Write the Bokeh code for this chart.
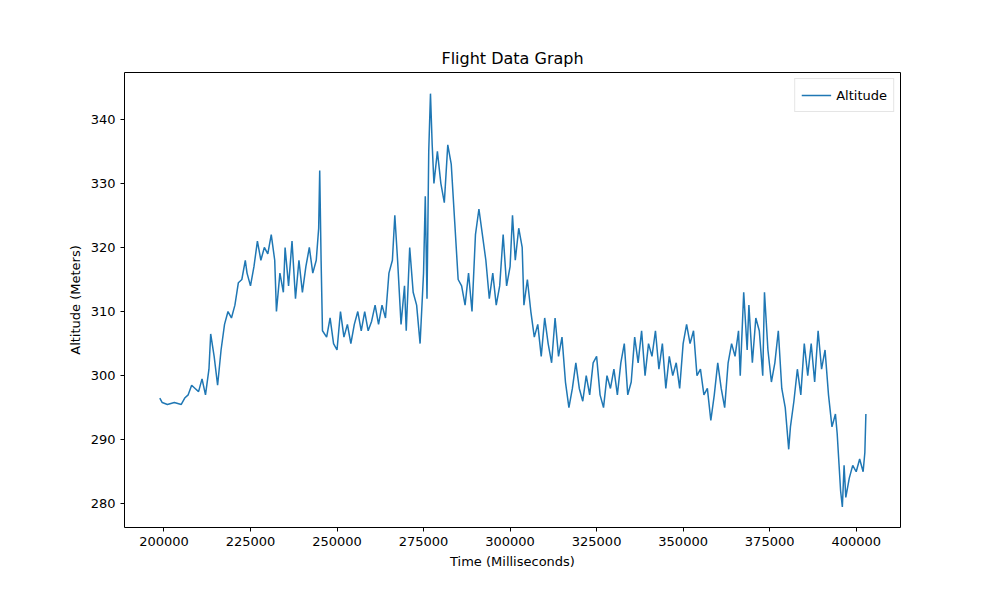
from bokeh.plotting import figure
from bokeh.models import Range1d, Legend, LegendItem, NumeralTickFormatter, FixedTicker
from bokeh.embed import file_html
from bokeh.resources import INLINE

# ── Data ─────────────────────────────────────────────────────────────────────
time_ms = [
    198800, 199500, 201000, 203000, 205000, 206000, 207000, 208000, 209000, 210000,
    211000, 212000, 213000, 213500, 214500, 215500, 216500, 217500, 218500, 219500,
    220500, 221500, 222500, 223500, 224000, 225000, 226000, 227000, 228000, 229000,
    230000, 231000, 232000, 232500, 233500, 234500, 235000, 236000, 237000, 238000,
    239000, 240000, 241000, 242000, 243000, 244000, 244700, 245000, 245400, 245800,
    247000, 248000, 249000, 250000, 251000, 252000, 253000, 254000, 255000, 256000,
    257000, 258000, 259000, 260000, 261000, 262000, 263000, 264000, 265000, 266000,
    266700, 267500, 268500, 269500, 270000, 271000, 272000, 273000, 274000, 275000,
    275500, 276000, 276500, 277000, 277500, 278000, 279000, 280000, 281000, 282000,
    283000, 284000, 285000, 286000, 287000, 288000, 289000, 290000, 291000, 292000,
    293000, 294000, 295000, 296000, 297000, 298000, 299000, 300000, 300700, 301500,
    302500, 303500, 304000, 305000, 306000, 307000, 308000, 309000, 310000, 311000,
    312000, 313000, 314000, 315000, 316000, 317000, 318000, 319000, 320000, 321000,
    322000, 323000, 324000, 325000, 326000, 327000, 328000, 329000, 330000, 331000,
    332000, 333000, 334000, 335000, 336000, 337000, 338000, 339000, 340000, 341000,
    342000, 343000, 344000, 345000, 346000, 347000, 348000, 349000, 350000, 351000,
    352000, 353000, 354000, 355000, 356000, 357000, 358000, 359000, 360000, 361000,
    362000, 363000, 364000, 365000, 366000, 366500, 367500, 368500, 369000, 370000,
    371000, 372000, 373000, 373500, 374500, 375500, 376500, 377500, 378500, 379500,
    380500, 381000, 382000, 383000, 384000, 385000, 386000, 387000, 388000, 389000,
    390000, 391000, 392000, 393000, 394000, 394500, 395500, 396000, 396500, 397000,
    398000, 399000, 400000, 401000, 402000, 402500, 402800,
]
altitude_m = [
    296.5, 295.8, 295.5, 295.8, 295.5, 296.5, 297, 298.5, 298, 297.5,
    299.5, 297, 301, 306.5, 303, 298.5, 304, 308, 310, 309,
    311, 314.5, 315, 318, 316, 314, 317, 321, 318, 320,
    319, 322, 318, 310, 316, 313, 320, 314, 321, 312,
    318, 313, 317, 320, 316, 318, 323, 332, 318, 307,
    306, 309, 305, 304, 310, 306, 308, 305, 308, 310,
    307, 310, 307, 308.5, 311, 308, 311, 309, 316, 318,
    325, 318, 308, 314, 307, 320, 313, 311, 305, 316,
    328, 312, 335, 344, 336, 330, 335, 330, 327, 336,
    333, 324, 315, 314, 311, 316, 310, 322, 326, 322,
    318, 312, 316, 311, 314, 322, 314, 317, 325, 318,
    323, 320, 311, 315, 310, 306, 308, 303, 309, 305,
    302, 309, 303, 306, 299, 295, 298, 302, 298, 296,
    300, 297, 302, 303, 297, 295, 300, 298, 301, 297,
    302, 305, 297, 299, 306, 302, 307, 300, 305, 303,
    307, 301, 305, 298, 303, 300, 302, 298, 305, 308,
    305, 307, 300, 301, 297, 298, 293, 297, 302, 298,
    295, 302, 305, 303, 307, 300, 313, 304, 311, 302,
    309, 307, 300, 313, 304, 299, 302, 307, 298, 295,
    288.5, 292, 296, 301, 297, 305, 300, 305, 299, 307,
    301, 304, 297, 292, 294, 291, 282, 279.5, 286, 281,
    284, 286, 285, 287, 285, 288, 294,
]
x_ticks = [200000, 225000, 250000, 275000, 300000, 325000, 350000, 375000, 400000]
y_ticks = [280, 290, 300, 310, 320, 330, 340]

BLUE = "#1f77b4"
FONT = "DejaVu Sans"

p = figure(
    width=984, height=584,
    output_backend="svg", toolbar_location=None,
    x_range=Range1d(188600, 412800), y_range=Range1d(276.3, 347.3),
    min_border_left=124, min_border_right=84, min_border_top=72, min_border_bottom=57,
    title="Flight Data Graph",
)
p.title.align = "center"
p.title.text_font = FONT
p.title.text_font_size = "16px"
p.title.text_font_style = "normal"
p.title.text_color = "black"

r = p.line(time_ms, altitude_m, line_color=BLUE, line_width=1.5)

p.grid.visible = False
p.outline_line_color = "black"
p.outline_line_width = 1
for ax in (p.xaxis, p.yaxis):
    ax.axis_line_color = None
    ax.minor_tick_line_color = None
    ax.major_tick_in = 0
    ax.major_tick_out = 4
    ax.major_tick_line_color = "black"
    ax.major_label_text_font = FONT
    ax.major_label_text_font_size = "13px"
    ax.major_label_text_color = "black"
    ax.axis_label_text_font = FONT
    ax.axis_label_text_font_size = "13px"
    ax.axis_label_text_font_style = "normal"
    ax.axis_label_text_color = "black"
p.xaxis.ticker = FixedTicker(ticks=x_ticks)
p.yaxis.ticker = FixedTicker(ticks=y_ticks)
p.xaxis.formatter = NumeralTickFormatter(format="0")
p.xaxis.axis_label = "Time (Milliseconds)"
p.yaxis.axis_label = "Altitude (Meters)"

legend = Legend(items=[LegendItem(label="Altitude", renderers=[r])], location="top_right")
legend.label_text_font = FONT
legend.label_text_font_size = "13px"
legend.label_text_color = "black"
legend.border_line_color = "#cccccc"
legend.glyph_width = 30
legend.padding = 6
legend.margin = 6
p.add_layout(legend)

open("out.html", "w").write(file_html(p, INLINE))
